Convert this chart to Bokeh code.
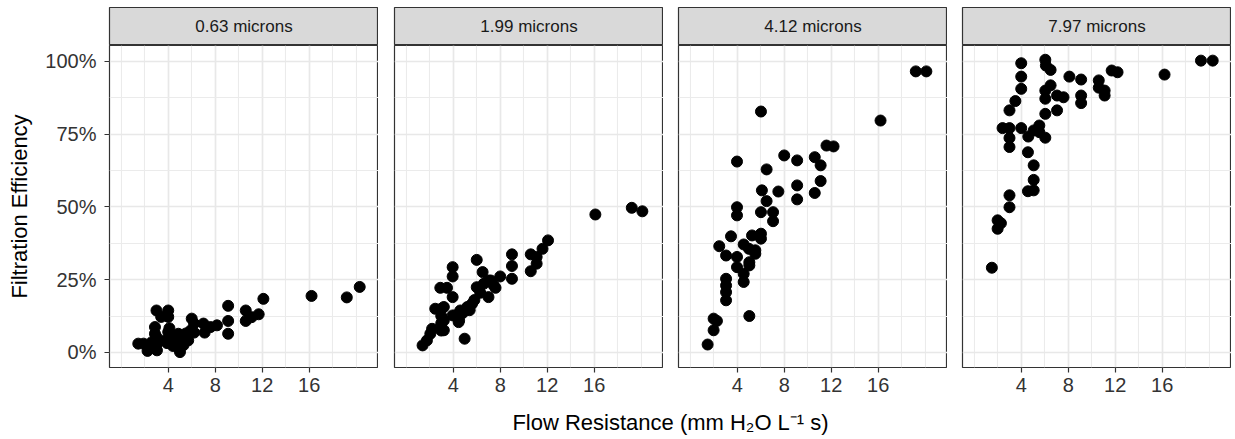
from bokeh.plotting import figure
from bokeh.layouts import row, column
from bokeh.models import Range1d, FixedTicker, PrintfTickFormatter, Label
from bokeh.embed import file_html
from bokeh.resources import INLINE

# ---------------- data (flow resistance, filtration efficiency %) ----------------
panel_labels = ["0.63 microns", "1.99 microns", "4.12 microns", "7.97 microns"]

x_063 = [1.45, 1.9, 2.24, 2.3, 2.6, 2.87, 2.87, 2.87, 3.04, 3.04, 3.0, 3.0, 3.4, 3.7, 4.0, 4.0, 4.0,
         4.3, 4.6, 4.86, 5.0, 5.4, 5.7, 5.9, 6.0, 6.2, 7.0, 7.1, 7.6, 8.15, 9.1, 9.1, 9.1, 10.6,
         10.6, 11.1, 11.7, 12.1, 16.2, 19.2, 20.3, 4.2, 4.5, 4.8, 5.2, 5.5, 4.4, 3.9, 5.3, 4.1, 6.2]
y_063 = [3.0, 3.0, 0.5, 1.8, 3.5, 1.8, 6.4, 8.7, 0.7, 3.0, 14.4, 5.3, 12.2, 4.1, 14.4, 12.2, 7.0,
         4.1, 3.0, 6.4, 0.1, 5.3, 4.1, 7.5, 11.6, 9.9, 9.9, 6.8, 8.7, 9.3, 16.0, 10.8, 6.4, 14.4,
         10.8, 12.1, 13.1, 18.4, 19.4, 18.9, 22.5, 5.5, 5.0, 4.5, 3.5, 6.5, 2.2, 3.2, 2.5, 8.3, 6.8]

x_199 = [1.39, 1.76, 2.05, 2.2, 2.47, 2.9, 2.98, 2.98, 2.98, 2.98, 3.47, 3.95, 3.95, 3.95, 3.95,
         4.46, 4.97, 6.0, 6.5, 7.0, 7.0, 7.6, 8.0, 9.0, 9.0, 9.0, 10.6, 10.6, 11.1, 11.1, 11.6,
         12.07, 16.1, 19.2, 20.1, 4.2, 4.5, 4.6, 5.2, 5.6, 6.0, 6.6, 7.2, 7.45, 3.2, 3.2, 3.2,
         4.8, 5.4, 5.8, 6.3]
y_199 = [2.4, 4.1, 6.4, 8.1, 15.0, 22.2, 15.0, 12.5, 10.0, 7.5, 22.2, 29.3, 26.1, 19.0, 12.7,
         10.4, 4.7, 31.8, 27.6, 24.7, 19.0, 22.2, 26.1, 33.7, 29.7, 25.3, 33.7, 27.9, 30.5, 32.8,
         35.6, 38.5, 47.4, 49.7, 48.5, 12.7, 11.0, 14.4, 15.6, 16.7, 22.4, 23.6, 24.7, 23.0, 15.6,
         11.0, 7.6, 13.5, 14.5, 18.0, 20.5]

x_412 = [6.02, 16.2, 19.2, 20.1, 3.98, 8.0, 9.1, 10.6, 11.1, 11.6, 12.2, 6.5, 11.1, 6.1, 7.5,
         9.1, 9.1, 10.6, 6.5, 3.98, 3.98, 6.02, 7.05, 7.05, 3.47, 5.26, 6.02, 6.02, 2.47, 3.05,
         3.98, 4.55, 5.0, 5.54, 5.54, 3.98, 5.03, 5.03, 4.55, 4.55, 3.05, 3.05, 3.05, 3.05, 1.99,
         2.27, 1.99, 1.48, 5.03]
y_412 = [82.8, 79.7, 96.6, 96.6, 65.6, 67.7, 66.0, 67.1, 64.3, 71.1, 70.8, 62.9, 58.9, 55.7, 55.3,
         57.4, 52.6, 54.8, 52.0, 49.9, 47.1, 48.2, 48.2, 45.1, 39.9, 40.2, 40.8, 39.1, 36.5, 33.3,
         32.8, 37.1, 35.6, 35.1, 33.9, 29.3, 31.0, 29.9, 27.0, 24.2, 25.3, 23.0, 20.7, 17.9, 11.6,
         10.8, 7.6, 2.7, 12.5]

x_797 = [4.0, 4.0, 4.0, 6.05, 6.1, 6.5, 8.1, 9.1, 9.1, 9.1, 10.6, 10.6, 11.1, 11.1, 11.7, 12.2,
         16.2, 19.3, 20.3, 6.5, 6.05, 6.05, 7.05, 7.6, 3.5, 3.0, 6.05, 7.05, 2.41, 3.0, 4.0, 4.6,
         5.06, 5.54, 5.54, 6.05, 3.0, 3.0, 4.57, 5.06, 5.06, 5.06, 4.57, 3.0, 3.0, 1.99, 2.27,
         1.99, 1.5]
y_797 = [99.4, 94.8, 90.6, 100.6, 98.6, 97.1, 94.8, 93.8, 88.3, 85.7, 93.5, 91.0, 90.0, 88.3,
         96.9, 96.3, 95.5, 100.3, 100.3, 91.8, 90.0, 87.2, 88.3, 87.7, 86.4, 83.2, 82.0, 83.2,
         77.1, 77.1, 77.1, 74.2, 76.3, 78.0, 75.7, 73.8, 73.7, 70.6, 68.8, 64.3, 59.3, 55.7, 55.4,
         54.0, 49.9, 45.4, 44.4, 42.5, 29.1]

series = [(x_063, y_063), (x_199, y_199), (x_412, y_412), (x_797, y_797)]

x_ticks = [4, 8, 12, 16]
x_minor = [0, 2, 6, 10, 14, 18, 20]
y_ticks = [0, 25, 50, 75, 100]
y_minor = [12.5, 37.5, 62.5, 87.5]

x_title = "Flow Resistance (mm H\u2082O L\u207b\u00b9 s)"
y_title = "Filtration Efficiency"

# ---------------- styling ----------------
FONT = "Liberation Sans"
FRAME_W, FRAME_H, STRIP_H = 269, 322, 38
lefts = [109, 16, 15, 15]

cols = []
for i, ((xs, ys), lab) in enumerate(zip(series, panel_labels)):
    # strip
    s = figure(title=None, width=lefts[i] + FRAME_W, height=7 + STRIP_H, frame_width=FRAME_W,
               frame_height=STRIP_H, x_range=Range1d(0, 1), y_range=Range1d(0, 1),
               x_axis_location=None, y_axis_location=None, toolbar_location=None,
               output_backend="svg", min_border_left=lefts[i], min_border_right=0,
               min_border_top=7, min_border_bottom=0)
    s.background_fill_color = "#d9d9d9"
    s.outline_line_color = "#333333"
    s.outline_line_width = 1.2
    s.grid.visible = False
    s.add_layout(Label(x=0.5, y=0.5, text=lab, text_align="center", text_baseline="middle",
                       text_font=FONT, text_font_size="17px", text_color="#1a1a1a"))

    p = figure(title=None, width=lefts[i] + FRAME_W, height=FRAME_H + 38,
               frame_width=FRAME_W, frame_height=FRAME_H,
               x_range=Range1d(-1.0, 21.9), y_range=Range1d(-5.2, 105.5),
               toolbar_location=None, output_backend="svg",
               min_border_left=lefts[i], min_border_right=0, min_border_top=0,
               min_border_bottom=38)
    p.background_fill_color = "white"
    p.outline_line_color = "#333333"
    p.outline_line_width = 1.2

    p.xaxis.ticker = FixedTicker(ticks=x_ticks, minor_ticks=x_minor)
    p.yaxis.ticker = FixedTicker(ticks=y_ticks, minor_ticks=y_minor)
    p.yaxis.formatter = PrintfTickFormatter(format="%d%%")
    for ax in (p.xaxis, p.yaxis):
        ax.axis_line_color = None
        ax.major_tick_line_color = "#333333"
        ax.major_tick_line_width = 1.2
        ax.major_tick_out = 5
        ax.major_tick_in = 0
        ax.minor_tick_line_color = None
        ax.major_label_text_font = FONT
        ax.major_label_text_font_size = "20px"
        ax.major_label_text_color = "#333333"
    p.xaxis.major_label_standoff = 5
    p.yaxis.major_label_standoff = 8
    for g in p.grid:
        g.grid_line_color = "#e8e8e8"
        g.grid_line_width = 1.7
        g.minor_grid_line_color = "#ebebeb"
        g.minor_grid_line_width = 1.1

    if i == 0:
        p.yaxis.axis_label = y_title
        p.yaxis.axis_label_text_font = FONT
        p.yaxis.axis_label_text_font_size = "22px"
        p.yaxis.axis_label_text_font_style = "normal"
        p.yaxis.axis_label_text_color = "black"
        p.yaxis.axis_label_standoff = 10
    else:
        p.yaxis.visible = False

    p.scatter(xs, ys, size=11, color="black")
    cols.append(column(s, p))

xl = figure(title=None, width=1235, height=34, frame_width=1235, frame_height=34,
            x_range=Range1d(0, 1235), y_range=Range1d(0, 34),
            x_axis_location=None, y_axis_location=None, toolbar_location=None,
            output_backend="svg", min_border=0)
xl.outline_line_color = None
xl.grid.visible = False
xl.add_layout(Label(x=670, y=17, x_units="screen", y_units="screen", text=x_title,
                    text_align="center", text_baseline="middle", text_font=FONT,
                    text_font_size="22px", text_color="black"))

layout = column(row(*cols), xl)
open("out.html", "w").write(file_html(layout, INLINE))
